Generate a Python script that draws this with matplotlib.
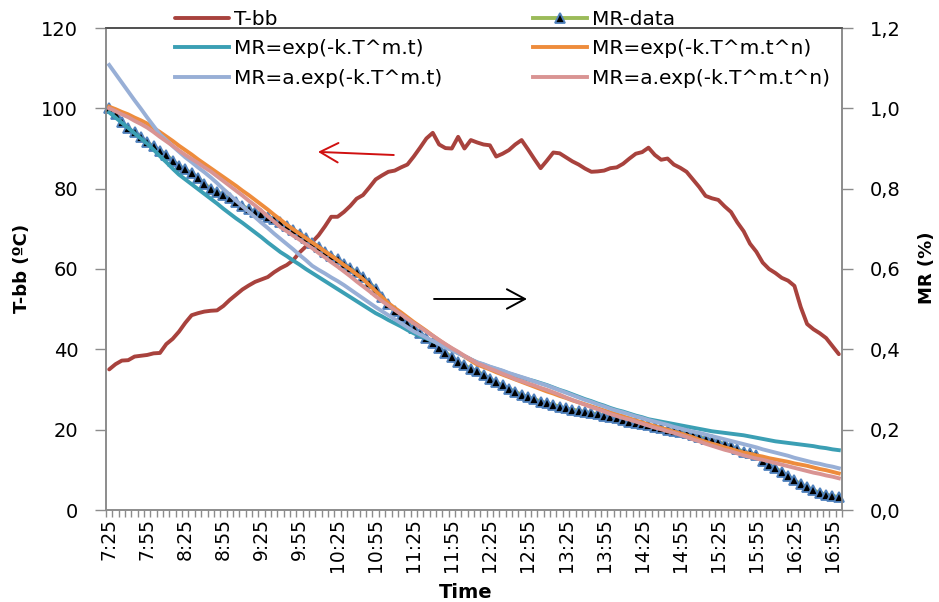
import numpy as np
import matplotlib
matplotlib.use("Agg")
import matplotlib.pyplot as plt

plt.rcParams['font.family'] = ['DejaVu Sans']

# Sampling times, one reading every 5 minutes from 7:25
times = [f"{(445 + 5 * k) // 60}:{(445 + 5 * k) % 60:02d}" for k in range(116)]

# Drying-air temperature T-bb (degC)
t_bb = [35.0, 36.3, 37.2, 37.3, 38.2, 38.4, 38.6, 39.0, 39.1, 41.3,
        42.6, 44.4, 46.6, 48.5, 49.0, 49.4, 49.6, 49.7, 50.8, 52.3,
        53.6, 54.9, 55.9, 56.8, 57.4, 58.0, 59.2, 60.2, 61.0, 62.2,
        64.1, 65.6, 66.7, 68.4, 70.6, 73.0, 73.0, 74.2, 75.7, 77.5,
        78.4, 80.3, 82.3, 83.3, 84.2, 84.5, 85.3, 86.0, 88.0, 90.2,
        92.5, 93.9, 91.0, 90.1, 90.0, 92.9, 90.0, 92.1, 91.5, 91.0,
        90.8, 88.0, 88.7, 89.6, 91.0, 92.1, 89.8, 87.4, 85.1, 87.0,
        89.0, 88.8, 87.8, 86.8, 86.0, 85.0, 84.2, 84.3, 84.5, 85.1,
        85.3, 86.2, 87.5, 88.7, 89.1, 90.2, 88.4, 87.2, 87.5, 86.0,
        85.2, 84.2, 82.3, 80.4, 78.2, 77.6, 77.2, 75.6, 74.2, 71.6,
        69.4, 66.3, 64.3, 61.6, 60.0, 59.0, 57.8, 57.1, 55.8, 50.5,
        46.3, 45.0, 44.0, 42.8, 40.8, 38.8]

# Measured moisture ratio
mr_data = [1.000, 0.985, 0.965, 0.950, 0.940, 0.928, 0.915, 0.905, 0.895, 0.884,
           0.870, 0.857, 0.848, 0.838, 0.827, 0.812, 0.800, 0.792, 0.784, 0.776,
           0.767, 0.757, 0.749, 0.742, 0.736, 0.730, 0.724, 0.716, 0.707, 0.697,
           0.688, 0.677, 0.665, 0.655, 0.643, 0.633, 0.624, 0.613, 0.602, 0.592,
           0.581, 0.566, 0.550, 0.530, 0.512, 0.495, 0.480, 0.465, 0.452, 0.440,
           0.428, 0.415, 0.404, 0.392, 0.380, 0.368, 0.360, 0.352, 0.345, 0.336,
           0.327, 0.318, 0.310, 0.302, 0.294, 0.287, 0.281, 0.276, 0.270, 0.266,
           0.262, 0.257, 0.253, 0.250, 0.247, 0.244, 0.241, 0.238, 0.235, 0.232,
           0.228, 0.224, 0.220, 0.217, 0.214, 0.211, 0.207, 0.204, 0.200, 0.197,
           0.194, 0.191, 0.187, 0.182, 0.178, 0.174, 0.169, 0.164, 0.159, 0.151,
           0.145, 0.141, 0.138, 0.122, 0.113, 0.104, 0.095, 0.085, 0.074, 0.064,
           0.057, 0.049, 0.043, 0.038, 0.035, 0.032]

# Model MR = exp(-k.T^m.t)
mr_exp_t = [0.990, 0.977, 0.964, 0.951, 0.938, 0.925, 0.912, 0.897, 0.881, 0.866,
            0.850, 0.835, 0.823, 0.811, 0.799, 0.787, 0.775, 0.763, 0.750, 0.738,
            0.726, 0.715, 0.703, 0.691, 0.679, 0.666, 0.654, 0.642, 0.632, 0.621,
            0.611, 0.600, 0.590, 0.580, 0.570, 0.560, 0.550, 0.540, 0.530, 0.520,
            0.510, 0.500, 0.490, 0.482, 0.473, 0.465, 0.457, 0.448, 0.440, 0.433,
            0.427, 0.420, 0.414, 0.407, 0.399, 0.391, 0.383, 0.375, 0.367, 0.362,
            0.356, 0.351, 0.346, 0.340, 0.335, 0.330, 0.325, 0.321, 0.316, 0.311,
            0.305, 0.299, 0.294, 0.288, 0.282, 0.276, 0.271, 0.265, 0.260, 0.254,
            0.249, 0.245, 0.240, 0.235, 0.231, 0.226, 0.223, 0.220, 0.217, 0.214,
            0.211, 0.208, 0.205, 0.202, 0.199, 0.196, 0.194, 0.192, 0.190, 0.188,
            0.186, 0.183, 0.180, 0.177, 0.174, 0.171, 0.169, 0.167, 0.165, 0.163,
            0.161, 0.159, 0.156, 0.154, 0.151, 0.149]

# Model MR = exp(-k.T^m.t^n)
mr_exp_tn = [1.004, 0.998, 0.991, 0.985, 0.977, 0.970, 0.962, 0.951, 0.941, 0.930,
             0.919, 0.907, 0.896, 0.885, 0.873, 0.862, 0.851, 0.840, 0.829, 0.818,
             0.807, 0.795, 0.784, 0.772, 0.760, 0.748, 0.735, 0.723, 0.710, 0.699,
             0.688, 0.677, 0.666, 0.655, 0.644, 0.633, 0.622, 0.610, 0.599, 0.587,
             0.575, 0.560, 0.545, 0.530, 0.515, 0.503, 0.492, 0.480, 0.468, 0.457,
             0.446, 0.434, 0.423, 0.412, 0.402, 0.392, 0.382, 0.372, 0.362, 0.356,
             0.350, 0.343, 0.337, 0.331, 0.325, 0.319, 0.313, 0.307, 0.301, 0.295,
             0.290, 0.284, 0.279, 0.273, 0.268, 0.263, 0.258, 0.253, 0.248, 0.243,
             0.238, 0.233, 0.228, 0.223, 0.218, 0.213, 0.209, 0.204, 0.200, 0.195,
             0.191, 0.186, 0.181, 0.175, 0.170, 0.165, 0.161, 0.156, 0.152, 0.147,
             0.143, 0.140, 0.136, 0.133, 0.129, 0.126, 0.123, 0.120, 0.116, 0.113,
             0.110, 0.106, 0.102, 0.099, 0.095, 0.091]

# Model MR = a.exp(-k.T^m.t)
mr_a_exp_t = [1.108, 1.086, 1.064, 1.042, 1.020, 0.999, 0.977, 0.956, 0.935, 0.921,
              0.906, 0.892, 0.878, 0.866, 0.853, 0.841, 0.828, 0.814, 0.799, 0.785,
              0.770, 0.756, 0.743, 0.729, 0.715, 0.702, 0.688, 0.675, 0.662, 0.649,
              0.635, 0.622, 0.608, 0.598, 0.589, 0.579, 0.570, 0.560, 0.549, 0.538,
              0.527, 0.516, 0.505, 0.495, 0.485, 0.475, 0.465, 0.455, 0.445, 0.437,
              0.429, 0.421, 0.413, 0.405, 0.398, 0.390, 0.383, 0.375, 0.368, 0.363,
              0.357, 0.352, 0.347, 0.341, 0.336, 0.331, 0.326, 0.320, 0.315, 0.310,
              0.304, 0.298, 0.292, 0.286, 0.280, 0.274, 0.269, 0.263, 0.258, 0.252,
              0.247, 0.243, 0.238, 0.233, 0.229, 0.224, 0.220, 0.216, 0.212, 0.207,
              0.203, 0.199, 0.195, 0.192, 0.188, 0.184, 0.180, 0.176, 0.172, 0.168,
              0.164, 0.160, 0.156, 0.151, 0.147, 0.143, 0.139, 0.135, 0.130, 0.126,
              0.122, 0.118, 0.115, 0.111, 0.108, 0.104]

# Model MR = a.exp(-k.T^m.t^n)
mr_a_exp_tn = [1.000, 0.993, 0.985, 0.978, 0.969, 0.961, 0.952, 0.941, 0.929, 0.918,
               0.907, 0.895, 0.884, 0.874, 0.864, 0.853, 0.843, 0.831, 0.819, 0.807,
               0.795, 0.783, 0.770, 0.758, 0.745, 0.731, 0.718, 0.704, 0.694, 0.683,
               0.673, 0.662, 0.652, 0.640, 0.629, 0.617, 0.606, 0.594, 0.582, 0.569,
               0.557, 0.545, 0.532, 0.520, 0.509, 0.498, 0.487, 0.476, 0.465, 0.455,
               0.444, 0.434, 0.423, 0.413, 0.403, 0.394, 0.384, 0.375, 0.365, 0.359,
               0.352, 0.346, 0.339, 0.333, 0.326, 0.321, 0.315, 0.310, 0.304, 0.299,
               0.293, 0.287, 0.280, 0.274, 0.268, 0.262, 0.256, 0.251, 0.245, 0.239,
               0.234, 0.229, 0.225, 0.220, 0.215, 0.210, 0.205, 0.201, 0.196, 0.192,
               0.187, 0.182, 0.176, 0.171, 0.165, 0.160, 0.155, 0.150, 0.146, 0.141,
               0.136, 0.132, 0.128, 0.125, 0.121, 0.117, 0.113, 0.109, 0.105, 0.101,
               0.097, 0.093, 0.090, 0.086, 0.083, 0.079]

label_every = 6

c_tbb = '#A8423D'
c_data_line = '#9BBB59'
c_exp_t = '#3B9FB4'
c_exp_tn = '#EE8C3C'
c_a_exp_t = '#98AFD6'
c_a_exp_tn = '#D99493'
axis_grey = '#8C8C8C'

W, H = 939, 602
fig = plt.figure(figsize=(W / 100, H / 100), dpi=100)
ax = fig.add_axes([106 / W, 1 - 510 / H, 736 / W, 482 / H])
ax2 = ax.twinx()

x = np.arange(len(times))
lw = 2.8

ax.plot(x, t_bb, color=c_tbb, lw=lw, solid_joinstyle='round',
        solid_capstyle='round', label='T-bb')

ax2.plot(x, mr_data, color=c_data_line, lw=lw, marker='^', ms=7.5,
         mfc='black', mec='#4F81BD', mew=1.3, label='MR-data', clip_on=False)
ax2.plot(x, mr_exp_t, color=c_exp_t, lw=lw, solid_joinstyle='round',
         label='MR=exp(-k.T^m.t)')
ax2.plot(x, mr_exp_tn, color=c_exp_tn, lw=lw, solid_joinstyle='round',
         label='MR=exp(-k.T^m.t^n)')
ax2.plot(x, mr_a_exp_t, color=c_a_exp_t, lw=lw, solid_joinstyle='round',
         label='MR=a.exp(-k.T^m.t)')
ax2.plot(x, mr_a_exp_tn, color=c_a_exp_tn, lw=lw, solid_joinstyle='round',
         label='MR=a.exp(-k.T^m.t^n)')

# Axes limits and ticks
ax.set_xlim(-0.5, len(times) - 0.5)
ax.set_ylim(0, 120)
ax2.set_ylim(0, 1.2)

ax.set_xticks(x[::label_every])
ax.set_xticklabels(times[::label_every], rotation=90, fontsize=13.5)
ax.set_xticks(np.arange(-0.5, len(times), 1), minor=True)
ax.tick_params(axis='x', which='major', length=0, pad=6)
ax.tick_params(axis='x', which='minor', length=5, width=1, color=axis_grey)

ax.set_yticks(np.arange(0, 121, 20))
ax.tick_params(axis='y', which='major', length=8, width=1, color=axis_grey,
               labelsize=14, pad=12)
mr_ticks = np.arange(0, 1.21, 0.2)
ax2.set_yticks(mr_ticks)
ax2.set_yticklabels([f"{v:.1f}".replace('.', ',') for v in mr_ticks])
ax2.tick_params(axis='y', which='major', length=8, width=1, color=axis_grey,
                labelsize=14, pad=12)

for a in (ax, ax2):
    for side in ('left', 'right', 'bottom'):
        a.spines[side].set_color(axis_grey)
        a.spines[side].set_linewidth(1.2)
    a.spines['top'].set_color('#505050')
    a.spines['top'].set_linewidth(1.2)

# Axis titles
fig.text(22 / W, 1 - 268 / H, 'T-bb (ºC)', rotation=90, ha='center',
         va='center', fontsize=13, fontweight='bold')
fig.text(927 / W, 1 - 268 / H, 'MR (%)', rotation=90, ha='center',
         va='center', fontsize=13, fontweight='bold')
fig.text(466 / W, 1 - 592 / H, 'Time', ha='center', va='center',
         fontsize=14, fontweight='bold')

# Direction arrows pointing to each series' axis
ax.annotate('', xy=(0.288, 0.743), xytext=(0.391, 0.7365),
            xycoords='axes fraction', textcoords='axes fraction',
            arrowprops=dict(arrowstyle='->,head_length=0.65,head_width=0.35',
                            mutation_scale=20, color='#D01010', lw=1.4,
                            shrinkA=0, shrinkB=0))
ax.annotate('', xy=(0.572, 0.4378), xytext=(0.4457, 0.4378),
            xycoords='axes fraction', textcoords='axes fraction',
            arrowprops=dict(arrowstyle='->,head_length=0.65,head_width=0.35',
                            mutation_scale=20, color='black', lw=1.4,
                            shrinkA=0, shrinkB=0))

# Two-column legend above the plot
h1, l1 = ax.get_legend_handles_labels()
h2, l2 = ax2.get_legend_handles_labels()
handles = dict(zip(l1 + l2, h1 + h2))
col1 = ['T-bb', 'MR=exp(-k.T^m.t)', 'MR=a.exp(-k.T^m.t)']
col2 = ['MR-data', 'MR=exp(-k.T^m.t^n)', 'MR=a.exp(-k.T^m.t^n)']
leg_kw = dict(loc='upper left', frameon=False, fontsize=14.5, borderpad=0,
              borderaxespad=0, handlelength=2.7, handletextpad=0.25,
              labelspacing=0.52, numpoints=1)
leg1 = fig.legend([handles[k] for k in col1], col1,
                  bbox_to_anchor=(175 / W, 1 - 10 / H), **leg_kw)
leg2 = fig.legend([handles[k] for k in col2], col2,
                  bbox_to_anchor=(533 / W, 1 - 10 / H), **leg_kw)

fig.savefig('out.png', dpi=100)
